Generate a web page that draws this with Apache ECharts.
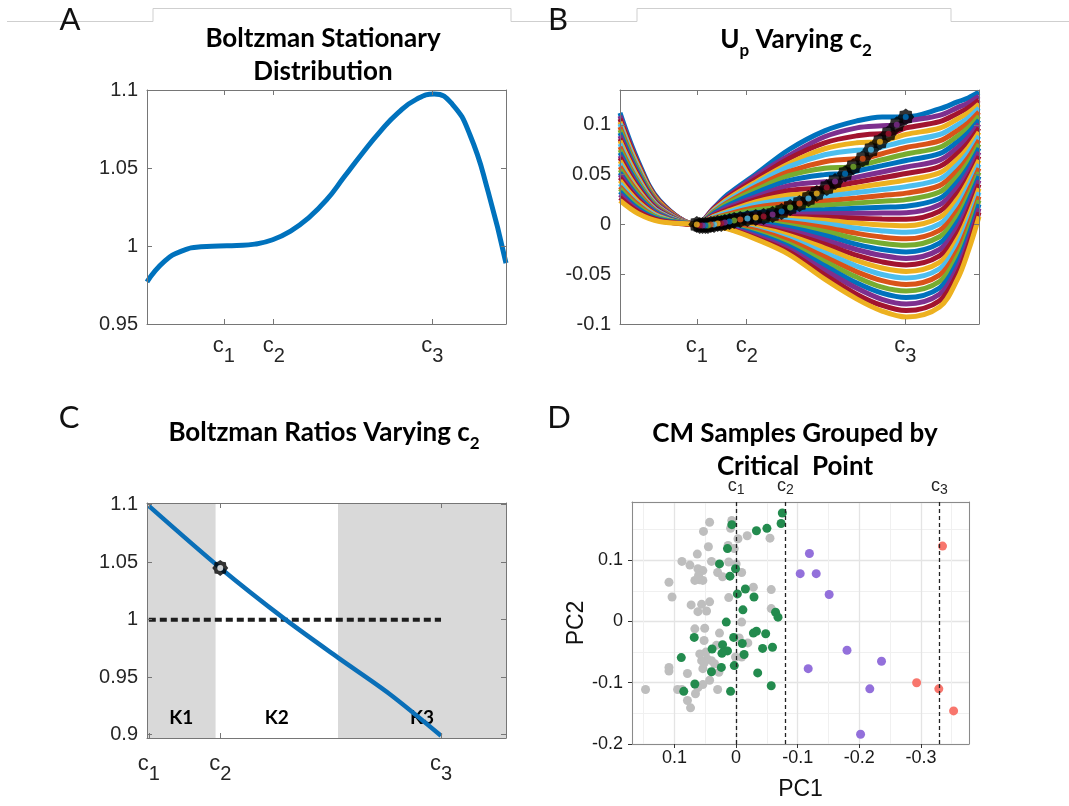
<!DOCTYPE html>
<html>
<head>
<meta charset="utf-8">
<script src="https://cdn.jsdelivr.net/npm/echarts@6.0.0/dist/echarts.min.js"></script>
<style>
html, body { margin: 0; padding: 0; background: #fff; }
#chart { width: 1069px; height: 806px; }
</style>
</head>
<body>
<div id="chart"></div>
<script>
// ---------- data ----------
// A: Boltzman stationary distribution
const aX = [0, 0.05, 0.1, 0.15, 0.2, 0.25, 0.3, 0.35, 0.4, 0.45, 0.5, 0.55, 0.6, 0.65, 0.7, 0.75, 0.8, 0.85, 0.9, 0.95, 1.0];
const aY = [0.977, 0.9905, 0.997, 0.9995, 1.0, 1.0003, 1.0012, 1.004, 1.0095, 1.018, 1.0295, 1.0445, 1.0595, 1.0735, 1.0855, 1.094, 1.0975, 1.091, 1.071, 1.035, 0.989];
const critTicks = [0.214, 0.353, 0.795];
const critNames = ['c_1', 'c_2', 'c_3'];

// B: U_p for varying c2 (one row per curve, top to bottom)
const bX = [0, 0.05, 0.11, 0.214, 0.26, 0.3, 0.38, 0.47, 0.57, 0.66, 0.73, 0.797, 0.89, 0.94, 0.97, 1.0];
const bCurves = [
  [0.112, 0.064, 0.024, 0, 0.016, 0.030, 0.051, 0.075, 0.094, 0.104, 0.108, 0.110, 0.116, 0.123, 0.127, 0.133],
  [0.109, 0.062, 0.023, 0, 0.016, 0.028, 0.049, 0.069, 0.088, 0.097, 0.099, 0.1035, 0.1096, 0.1173, 0.122, 0.129],
  [0.106, 0.061, 0.023, 0, 0.015, 0.027, 0.046, 0.066, 0.082, 0.089, 0.091, 0.0969, 0.1032, 0.1115, 0.117, 0.1249],
  [0.103, 0.059, 0.022, 0, 0.014, 0.0255, 0.043, 0.061, 0.076, 0.082, 0.0836, 0.0904, 0.0967, 0.1058, 0.112, 0.1209],
  [0.101, 0.057, 0.021, 0, 0.0135, 0.024, 0.041, 0.058, 0.070, 0.0746, 0.0778, 0.0838, 0.0903, 0.100, 0.107, 0.1169],
  [0.098, 0.055, 0.021, 0, 0.0125, 0.022, 0.038, 0.053, 0.063, 0.0659, 0.071, 0.0773, 0.0839, 0.0943, 0.102, 0.1129],
  [0.095, 0.054, 0.020, 0, 0.0116, 0.021, 0.035, 0.049, 0.0565, 0.0589, 0.0649, 0.0707, 0.0775, 0.0886, 0.097, 0.1088],
  [0.092, 0.052, 0.019, 0, 0.0107, 0.019, 0.032, 0.044, 0.050, 0.0536, 0.059, 0.0642, 0.0711, 0.0828, 0.092, 0.1048],
  [0.089, 0.050, 0.019, 0, 0.0095, 0.017, 0.028, 0.039, 0.0428, 0.0475, 0.0527, 0.0576, 0.0646, 0.0771, 0.087, 0.1008],
  [0.086, 0.049, 0.018, 0, 0.0087, 0.015, 0.0255, 0.034, 0.0368, 0.0424, 0.0468, 0.0511, 0.0582, 0.0713, 0.082, 0.0967],
  [0.084, 0.047, 0.017, 0, 0.0079, 0.0133, 0.0229, 0.0296, 0.0322, 0.0371, 0.0409, 0.0445, 0.0518, 0.0656, 0.077, 0.0927],
  [0.081, 0.045, 0.017, 0, 0.007, 0.012, 0.0203, 0.0254, 0.028, 0.032, 0.035, 0.038, 0.0454, 0.0599, 0.072, 0.0887],
  [0.078, 0.043, 0.016, 0, 0.0061, 0.0103, 0.0174, 0.0208, 0.0235, 0.0266, 0.0291, 0.0314, 0.039, 0.0541, 0.067, 0.0846],
  [0.075, 0.042, 0.015, 0, 0.0054, 0.009, 0.0148, 0.0168, 0.0193, 0.0215, 0.0233, 0.0249, 0.0325, 0.0484, 0.062, 0.0806],
  [0.072, 0.040, 0.014, 0, 0.0046, 0.0075, 0.012, 0.0133, 0.0148, 0.0162, 0.0173, 0.0183, 0.0261, 0.0426, 0.057, 0.0766],
  [0.069, 0.038, 0.014, 0, 0.0039, 0.0063, 0.0097, 0.0102, 0.0107, 0.0111, 0.0115, 0.0118, 0.0197, 0.0369, 0.052, 0.0726],
  [0.067, 0.037, 0.013, 0, 0.0034, 0.0056, 0.0079, 0.0078, 0.0071, 0.0062, 0.0055, 0.0052, 0.0133, 0.0312, 0.047, 0.0685],
  [0.064, 0.035, 0.012, 0, 0.0033, 0.0054, 0.007, 0.0062, 0.0041, 0.0013, -0.0006, -0.0014, 0.0069, 0.0254, 0.043, 0.0645],
  [0.061, 0.033, 0.012, 0, 0.0031, 0.0052, 0.0058, 0.0042, 0.0007, -0.0037, -0.0065, -0.0079, 0.0004, 0.0197, 0.038, 0.0605],
  [0.058, 0.032, 0.011, 0, 0.003, 0.0046, 0.0046, 0.0019, -0.003, -0.009, -0.0127, -0.0145, -0.006, 0.0139, 0.033, 0.0564],
  [0.055, 0.030, 0.010, 0, 0.0027, 0.0039, 0.0031, -0.0007, -0.007, -0.0145, -0.0189, -0.021, -0.0124, 0.0082, 0.028, 0.0524],
  [0.052, 0.028, 0.010, 0, 0.0022, 0.003, 0.0016, -0.0031, -0.0111, -0.020, -0.0252, -0.0276, -0.0188, 0.0025, 0.023, 0.0484],
  [0.050, 0.026, 0.009, 0, 0.0017, 0.002, -0.0002, -0.006, -0.0155, -0.0254, -0.0312, -0.0341, -0.0252, -0.0033, 0.018, 0.0443],
  [0.047, 0.025, 0.008, 0, 0.0009, 0.0007, -0.0021, -0.0088, -0.0198, -0.0311, -0.0376, -0.0407, -0.0317, -0.009, 0.013, 0.0403],
  [0.044, 0.023, 0.008, 0, 0.001, 0.0005, -0.0031, -0.0109, -0.0238, -0.0364, -0.0438, -0.0472, -0.0381, -0.0148, 0.008, 0.0363],
  [0.041, 0.021, 0.007, 0, 0, -0.0008, -0.0051, -0.014, -0.0285, -0.042, -0.0503, -0.0538, -0.0445, -0.0205, 0.003, 0.0323],
  [0.038, 0.020, 0.006, 0, 0, -0.001, -0.006, -0.0163, -0.0326, -0.0476, -0.0564, -0.0603, -0.0509, -0.0262, -0.002, 0.0282],
  [0.036, 0.018, 0.006, 0, -0.001, -0.0023, -0.0082, -0.0195, -0.0372, -0.0531, -0.063, -0.0669, -0.0573, -0.032, -0.007, 0.0242],
  [0.033, 0.016, 0.005, 0, -0.0016, -0.0027, -0.0097, -0.022, -0.0415, -0.0589, -0.069, -0.0734, -0.0638, -0.0377, -0.012, 0.0202],
  [0.030, 0.014, 0.004, 0, -0.0018, -0.0034, -0.0117, -0.0247, -0.046, -0.0642, -0.0753, -0.080, -0.0702, -0.0435, -0.017, 0.0161],
  [0.027, 0.013, 0.004, 0, -0.0021, -0.004, -0.0138, -0.0275, -0.0506, -0.0703, -0.0814, -0.0865, -0.0766, -0.0492, -0.022, 0.0121],
  [0.024, 0.011, 0.003, 0, -0.0022, -0.0045, -0.015, -0.030, -0.055, -0.075, -0.087, -0.093, -0.083, -0.055, -0.027, 0.008]
];
// critical point c2 of each curve
const bMarkX = [0.796, 0.771, 0.748, 0.724, 0.699, 0.676, 0.650, 0.627, 0.599, 0.576, 0.548, 0.525, 0.500, 0.474, 0.450, 0.425,
                0.400, 0.378, 0.355, 0.335, 0.318, 0.305, 0.292, 0.282, 0.272, 0.262, 0.253, 0.245, 0.238, 0.230, 0.222, 0.214];
const bMarkY = [0.108, 0.100, 0.091, 0.083, 0.075, 0.066, 0.058, 0.051, 0.043, 0.037, 0.031, 0.026, 0.021, 0.017, 0.013, 0.010,
                0.008, 0.007, 0.006, 0.005, 0.004, 0.003, 0.002, 0.001, 0.001, 0.000, 0.000, -0.001, -0.001, -0.001, -0.001, 0.000];

// C: Boltzman ratios varying c2
const cX = [0.005, 0.204, 0.386, 0.532, 0.673, 0.819];
const cY = [1.099, 1.045, 1.0, 0.967, 0.936, 0.899];
const cRefX = [0.005, 0.819];
const cRefY = [1, 1];
const cPoint = [0.204, 1.045];
const cTicks = [0.005, 0.204, 0.819];
const kNames = ['K1', 'K2', 'K3'];
const kBounds = [[0, 0.191], [0.191, 0.532], [0.532, 1]];
const kShaded = [true, false, true];

// D: CM samples on PC1 / PC2
const dGrey = [[0.043,0.162],[0.053,0.147],[0.007,0.165],[0.009,0.152],[-0.018,0.140],[-0.003,0.135],[0.013,0.124],[0.003,0.119],
  [0.045,0.122],[0.063,0.110],[0.088,0.098],[0.075,0.092],[0.062,0.086],[0.054,0.083],[0.040,0.098],[0.030,0.080],[0.012,0.097],
  [0.000,0.094],[-0.009,0.080],[0.022,0.073],[0.059,0.068],[0.067,0.067],[0.054,0.067],[0.109,0.064],[0.104,0.040],[0.061,0.075],
  [-0.028,0.056],[-0.057,0.052],[0.012,0.039],[0.043,0.032],[0.056,0.028],[0.073,0.027],[0.048,0.017],[0.062,0.016],[-0.057,0.021],
  [-0.009,-0.001],[0.067,-0.012],[0.051,-0.011],[0.027,-0.019],[0.052,-0.031],[0.032,-0.039],[0.049,-0.050],[0.056,-0.064],
  [0.047,-0.061],[0.040,-0.064],[0.054,-0.077],[0.109,-0.075],[0.109,-0.081],[0.079,-0.085],[0.028,-0.083],[0.043,-0.096],
  [0.054,-0.103],[0.062,-0.108],[0.066,-0.118],[0.088,-0.111],[0.095,-0.111],[0.147,-0.111],[0.079,-0.129],[0.074,-0.141],
  [0.030,-0.111],[-0.019,-0.035],[-0.009,-0.058],[0.001,-0.058],[-0.055,0.136],[-0.005,-0.027],[0.035,-0.069],[0.052,-0.068],[0.059,-0.053]];
const dGreen = [[-0.075,0.177],[-0.073,0.160],[-0.050,0.152],[-0.033,0.148],[0.007,0.158],[0.014,0.119],[0.027,0.094],[0.001,0.086],
  [0.010,0.074],[-0.015,0.053],[-0.002,0.045],[-0.029,0.040],[-0.011,0.019],[-0.064,0.015],[-0.068,0.007],[0.016,-0.001],
  [0.004,-0.026],[0.068,-0.026],[-0.033,-0.016],[-0.028,-0.019],[-0.048,-0.020],[-0.010,-0.036],[0.022,-0.038],[0.039,-0.045],
  [0.014,-0.048],[-0.013,-0.054],[-0.043,-0.044],[-0.059,-0.042],[0.089,-0.059],[0.003,-0.072],[0.024,-0.075],[0.040,-0.082],
  [-0.035,-0.084],[0.067,-0.102],[-0.057,-0.105],[0.009,-0.114],[0.085,-0.114],[0.023,-0.052]];
const dPurple = [[-0.119,0.111],[-0.104,0.078],[-0.130,0.078],[-0.151,0.044],[-0.180,-0.047],[-0.236,-0.065],[-0.117,-0.077],
  [-0.217,-0.110],[-0.202,-0.184]];
const dSalmon = [[-0.335,0.123],[-0.293,-0.100],[-0.329,-0.110],[-0.353,-0.146]];
const dCrit = [-0.002, -0.080, -0.328];

// ---------- style ----------
const numFont = 'Liberation Sans';
const titleFont = 'Lato';
const frameColor = '#767676';
const tickText = '#262626';
const bCycle = ['#0072BD', '#7E2F8E', '#A2142F', '#EDB120', '#4DBEEE', '#D95319', '#77AC30'];
const gearPath = 'path://M20,10L17.58,13.14L17.07,17.07L13.14,17.58L10,20L6.86,17.58L2.93,17.07L2.42,13.14L0,10L2.42,6.86L2.93,2.93L6.86,2.42L10,0L13.14,2.42L17.07,2.93L17.58,6.86Z';

function subRich(cSize, sSize, drop) {
  return {
    c: { fontSize: cSize, fontFamily: numFont, color: tickText, lineHeight: cSize + 2, verticalAlign: 'top' },
    s: { fontSize: sSize, fontFamily: numFont, color: tickText, lineHeight: sSize, verticalAlign: 'top', padding: [drop, 0, 0, 0] }
  };
}
// 'c_1' -> rich text with subscript
function subLabel(txt) {
  const p = txt.split('_');
  return '{c|' + p[0] + '}{s|' + p[1] + '}';
}
function tickFormatter(ticks, names) {
  return function (v) {
    let best = 0;
    ticks.forEach((t, i) => { if (Math.abs(t - v) < Math.abs(ticks[best] - v)) best = i; });
    return subLabel(names[best]);
  };
}

function matlabX(grid, ticks, names, margin) {
  const line = { show: true, onZero: false, lineStyle: { color: frameColor, width: 1 } };
  const tick = { show: true, inside: true, length: 5, customValues: ticks, lineStyle: { color: frameColor } };
  return [
    { gridIndex: grid, type: 'value', min: 0, max: 1, position: 'bottom', z: 5, axisLine: line, axisTick: tick,
      axisLabel: { show: true, customValues: ticks, margin: margin, formatter: tickFormatter(ticks, names), rich: subRich(22, 20, 11) },
      splitLine: { show: false } },
    { gridIndex: grid, type: 'value', min: 0, max: 1, position: 'top', z: 5, axisLine: line, axisTick: tick,
      axisLabel: { show: false }, splitLine: { show: false } }
  ];
}
function matlabY(grid, min, max, interval, showMin, showMax) {
  const line = { show: true, onZero: false, lineStyle: { color: frameColor, width: 1 } };
  const tick = { show: true, inside: true, length: 5, lineStyle: { color: frameColor } };
  return [
    { gridIndex: grid, type: 'value', min, max, interval, position: 'left', z: 5, axisLine: line, axisTick: tick,
      axisLabel: { show: true, margin: 9, fontSize: 20, fontFamily: numFont, color: tickText, showMinLabel: showMin, showMaxLabel: showMax },
      splitLine: { show: false } },
    { gridIndex: grid, type: 'value', min, max, interval, position: 'right', z: 5, axisLine: line, axisTick: tick,
      axisLabel: { show: false }, splitLine: { show: false } }
  ];
}

// ---------- series ----------
const series = [];

// A
series.push({
  type: 'line', xAxisIndex: 0, yAxisIndex: 0, data: aX.map((x, i) => [x, aY[i]]),
  smooth: 0.5, showSymbol: false, silent: true, lineStyle: { color: '#0072BD', width: 5 }, z: 2
});

// B curves
bCurves.forEach((row, k) => {
  const pts = bX.map((x, i) => [x, row[i]]).filter(p => Math.abs(p[0] - bMarkX[k]) > 0.012);
  pts.push([bMarkX[k], bMarkY[k]]);
  pts.sort((a, b) => a[0] - b[0]);
  series.push({
    type: 'line', xAxisIndex: 2, yAxisIndex: 2, data: pts, smooth: 0.35, showSymbol: false, silent: true,
    lineStyle: { color: bCycle[k % 7], width: 5 }, z: 2
  });
});
series.push({
  type: 'scatter', xAxisIndex: 2, yAxisIndex: 2, data: bMarkX.map((x, k) => [x, bMarkY[k]]),
  symbol: gearPath, symbolSize: 17, itemStyle: { color: '#000' }, silent: true, z: 3
});
series.push({
  type: 'scatter', xAxisIndex: 2, yAxisIndex: 2,
  data: bMarkX.map((x, k) => ({ value: [x, bMarkY[k]], itemStyle: { color: bCycle[k % 7] } })),
  symbol: 'circle', symbolSize: 6, silent: true, z: 4
});

// C
series.push({
  type: 'line', xAxisIndex: 4, yAxisIndex: 4, data: cRefX.map((x, i) => [x, cRefY[i]]),
  showSymbol: false, silent: true, lineStyle: { color: '#1e1e1e', width: 4, type: [7, 4] }, z: 3,
  markArea: {
    silent: true,
    label: { show: true, position: 'insideBottom', distance: 11, fontFamily: titleFont, fontWeight: 'bold', fontSize: 19, color: '#000' },
    data: kNames.map((n, i) => [
      { name: n, xAxis: kBounds[i][0], itemStyle: { color: kShaded[i] ? '#d9d9d9' : 'rgba(255,255,255,0)' } },
      { xAxis: kBounds[i][1] }
    ])
  }
});
series.push({
  type: 'line', xAxisIndex: 4, yAxisIndex: 4, data: cX.map((x, i) => [x, cY[i]]),
  smooth: 0.3, showSymbol: false, silent: true, lineStyle: { color: '#0a6fb8', width: 4.5 }, z: 4
});
series.push({
  type: 'scatter', xAxisIndex: 4, yAxisIndex: 4, data: [cPoint], symbol: gearPath, symbolSize: 16,
  itemStyle: { color: '#000' }, silent: true, z: 5
});
series.push({
  type: 'scatter', xAxisIndex: 4, yAxisIndex: 4, data: [cPoint], symbol: 'circle', symbolSize: 6,
  itemStyle: { color: '#fff' }, silent: true, z: 6
});

// D
[[dGrey, '#bebebe'], [dGreen, '#238b4e'], [dPurple, '#9370db'], [dSalmon, '#f8766d']].forEach(([pts, col], i) => {
  const s = {
    type: 'scatter', xAxisIndex: 6, yAxisIndex: 6, data: pts, symbol: 'circle', symbolSize: 9,
    itemStyle: { color: col, opacity: 1 }, silent: true, z: 2
  };
  if (i === 3) {
    s.markLine = {
      silent: true, symbol: 'none', animation: false,
      lineStyle: { color: '#222', width: 1.3, type: [4, 3] },
      label: { show: true, position: 'end', distance: 5, formatter: p => subLabel(critNames[p.dataIndex]), rich: subRich(18, 14, 6) },
      data: dCrit.map(v => ({ xAxis: v }))
    };
  }
  series.push(s);
});

// ---------- axes ----------
const xAxes = [].concat(
  matlabX(0, critTicks, critNames, 11),
  matlabX(1, critTicks, critNames, 11),
  matlabX(2, cTicks, critNames, 15),
  [
    { gridIndex: 3, type: 'value', inverse: true, min: -0.378, max: 0.169, splitNumber: 5, position: 'bottom',
      axisLine: { show: true, onZero: false, lineStyle: { color: '#8a8a8a', width: 1 } },
      axisTick: { show: true, length: 4, lineStyle: { color: '#333' } },
      axisLabel: { margin: 5, fontSize: 18, fontFamily: numFont, color: '#1a1a1a', showMinLabel: false, showMaxLabel: false },
      splitLine: { show: true, lineStyle: { color: '#e4e4e4', width: 1.3 } },
      minorTick: { show: false, splitNumber: 2 },
      minorSplitLine: { show: true, lineStyle: { color: '#f0f0f0', width: 1 } },
      name: 'PC1', nameLocation: 'middle', nameGap: 34,
      nameTextStyle: { fontSize: 23, fontFamily: numFont, color: '#111' } },
    { gridIndex: 3, type: 'value', inverse: true, min: -0.378, max: 0.169, position: 'top',
      axisLine: { show: true, onZero: false, lineStyle: { color: '#8a8a8a', width: 1 } },
      axisTick: { show: false }, axisLabel: { show: false }, splitLine: { show: false } }
  ]
);
const yAxes = [].concat(
  matlabY(0, 0.95, 1.1, 0.05, true, true),
  matlabY(1, -0.1, 0.135, 0.05, true, false),
  matlabY(2, 0.897, 1.1015, undefined, false, false),
  [
    { gridIndex: 3, type: 'value', min: -0.2, max: 0.195, splitNumber: 5, position: 'left',
      axisLine: { show: true, onZero: false, lineStyle: { color: '#8a8a8a', width: 1 } },
      axisTick: { show: true, length: 4, lineStyle: { color: '#333' } },
      axisLabel: { margin: 9, fontSize: 18, fontFamily: numFont, color: '#1a1a1a', showMaxLabel: false },
      splitLine: { show: true, lineStyle: { color: '#e4e4e4', width: 1.3 } },
      minorTick: { show: false, splitNumber: 2 },
      minorSplitLine: { show: true, lineStyle: { color: '#f0f0f0', width: 1 } },
      name: 'PC2', nameLocation: 'middle', nameGap: 44,
      nameTextStyle: { fontSize: 23, fontFamily: numFont, color: '#111' } },
    { gridIndex: 3, type: 'value', min: -0.2, max: 0.195, position: 'right',
      axisLine: { show: true, onZero: false, lineStyle: { color: '#8a8a8a', width: 1 } },
      axisTick: { show: false }, axisLabel: { show: false }, splitLine: { show: false } }
  ]
);

// ---------- titles & panel letters ----------
const titleRich = {
  t: { fontSize: 26, fontFamily: titleFont, fontWeight: 'bold', fill: '#000', lineHeight: 30, verticalAlign: 'top' },
  s: { fontSize: 17, fontFamily: titleFont, fontWeight: 'bold', fill: '#000', lineHeight: 18, verticalAlign: 'top', padding: [15, 0, 0, 0] }
};
function letter(txt, x, y) {
  return { type: 'text', x, y, z: 10, style: { text: txt, fontSize: 31, fontFamily: titleFont, fill: '#111', align: 'center', verticalAlign: 'middle' } };
}
function title(txt, x, y) {
  return { type: 'text', x, y, z: 10, style: { text: txt, fontSize: 26, fontFamily: titleFont, fontWeight: 'bold', lineHeight: 33, fill: '#000', align: 'center', verticalAlign: 'middle' } };
}
const graphics = [
  { type: 'polyline', z: 1, shape: { points: [[7, 21.5], [153, 21.5], [153, 8.5], [511, 8.5], [511, 21.5], [637, 21.5], [637, 8.5], [951, 8.5], [951, 21.5], [1069, 21.5]] },
    style: { stroke: '#cfcfcf', lineWidth: 1, fill: null } },
  letter('A', 70, 20), letter('B', 558, 20), letter('C', 69, 418), letter('D', 559, 418),
  title('Boltzman Stationary\nDistribution', 323, 55),
  title('CM Samples Grouped by\nCritical  Point', 795, 450),
  { type: 'text', x: 796, y: 42, z: 10, style: { text: '{t|U}{s|p}{t| Varying c}{s|2}', rich: titleRich, align: 'center', verticalAlign: 'middle' } },
  { type: 'text', x: 324, y: 435, z: 10, style: { text: '{t|Boltzman Ratios Varying c}{s|2}', rich: titleRich, align: 'center', verticalAlign: 'middle' } }
];

const chart = echarts.init(document.getElementById('chart'));
chart.setOption({
  animation: false,
  backgroundColor: '#fff',
  grid: [
    { left: 147, top: 90, width: 359, height: 234, outerBoundsMode: 'none' },
    { left: 620, top: 90, width: 359, height: 234, outerBoundsMode: 'none' },
    { left: 147, top: 503, width: 359, height: 235, outerBoundsMode: 'none' },
    { left: 632, top: 502, width: 337, height: 242, outerBoundsMode: 'none' }
  ],
  xAxis: xAxes,
  yAxis: yAxes,
  series: series,
  graphic: graphics
});
</script>
</body>
</html>
